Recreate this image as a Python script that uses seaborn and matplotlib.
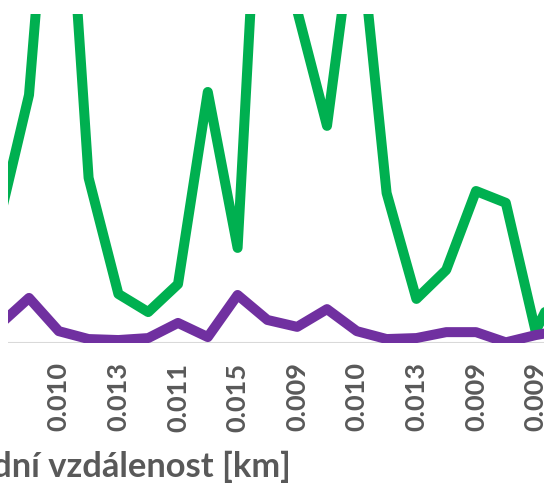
import matplotlib
matplotlib.use("Agg")
import matplotlib.pyplot as plt
import seaborn as sns
import pandas as pd
import numpy as np

# category positions (index) and their visible labels (every other category labelled)
categories = list(range(-1, 19))
tick_positions = [1, 3, 5, 7, 9, 11, 13, 15, 17]
tick_labels = ["0.010", "0.013", "0.011", "0.015", "0.009", "0.010", "0.013", "0.009", "0.009"]

green_values = [37.1, 75.4, 186.3, 50.2, 14.9, 9.4, 17.9, 76.3, 28.9, 196.7,
                101.0, 66.0, 134.7, 45.6, 13.4, 22.2, 46.2, 42.6, 3.6, 22.0]
purple_values = [5.5, 13.7, 3.6, 1.2, 0.9, 1.5, 6.1, 1.8, 14.6, 7.0,
                 4.9, 10.3, 3.6, 1.2, 1.5, 3.3, 3.3, 0.2, 2.4, 4.0]

x_title = "Střední vzdálenost [km]"

df = pd.DataFrame({
    "x": categories * 2,
    "value": green_values + purple_values,
    "series": ["green"] * len(categories) + ["purple"] * len(categories),
})

sns.set_theme(style="white")
plt.rcParams["font.family"] = ["Lato", "DejaVu Sans"]

W, H = 544, 487
fig = plt.figure(figsize=(W / 100, H / 100), dpi=100)
ax = fig.add_axes([8 / W, (H - 343) / H, 536 / W, 329 / H])

sns.lineplot(data=df, x="x", y="value", hue="series",
             palette={"green": "#00B050", "purple": "#7030A0"},
             linewidth=7.2, ax=ax, legend=False, sort=False,
             solid_joinstyle="round", solid_capstyle="round", zorder=3)

ax.axhline(0, color="#D9D9D9", linewidth=1.5, zorder=1)

px0, dpx = 29.0, 29.8
ax.set_xlim((8 - px0) / dpx, (544 - px0) / dpx)
ax.set_ylim(0, 100)

for s in ax.spines.values():
    s.set_visible(False)

ax.set_yticks([])
ax.set_xticks(tick_positions)
ax.set_xticklabels(tick_labels, rotation=90, fontweight="bold", color="#595959",
                   fontsize=19.5)
ax.tick_params(axis="x", length=0, pad=14)
ax.set_xlabel("")
ax.set_ylabel("")

fig.text(291 / W, (H - 477) / H, x_title, ha="right", va="baseline",
         fontsize=24.8, fontweight="bold", color="#595959")

fig.savefig("out.png", dpi=100)
